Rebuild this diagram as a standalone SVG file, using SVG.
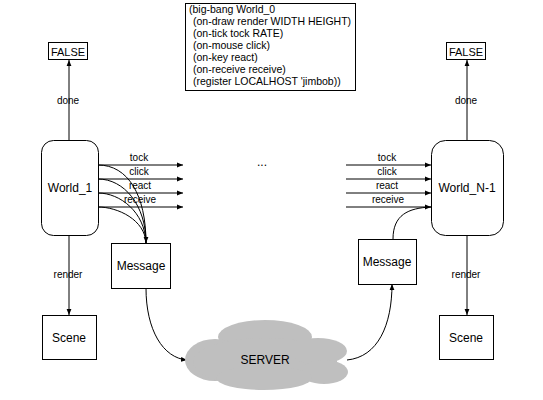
<svg xmlns="http://www.w3.org/2000/svg" width="543" height="400" viewBox="0 0 543 400">
<style>
.box{fill:#fff;stroke:#000;stroke-width:1}
.ln{fill:none;stroke:#000;stroke-width:1}
text{font-family:"Liberation Sans","DejaVu Sans",sans-serif;fill:#000}
.t12{font-size:12px;text-anchor:middle}
.t11{font-size:11px;text-anchor:middle}
.t10{font-size:10px;text-anchor:middle}
.code{font-size:10.5px}
</style>
<defs>
<marker id="ah" viewBox="0 0 10 10" refX="10" refY="5" markerWidth="6" markerHeight="6" markerUnits="userSpaceOnUse" orient="auto">
<path d="M0,1 L10,5 L0,9 Z" fill="#000"/>
</marker>
</defs>
<rect width="543" height="400" fill="#fff"/>
<g id="code">
<rect class="box" x="185.5" y="3.5" width="170" height="87"/>
<text class="code" x="189" y="13">(big-bang World_0</text>
<text class="code" x="193" y="25">(on-draw render WIDTH HEIGHT)</text>
<text class="code" x="193" y="37">(on-tick tock RATE)</text>
<text class="code" x="193" y="49">(on-mouse click)</text>
<text class="code" x="193" y="61">(on-key react)</text>
<text class="code" x="193" y="73">(on-receive receive)</text>
<text class="code" x="193" y="85">(register LOCALHOST 'jimbob))</text>
</g>
<g id="connectors">
<line class="ln" x1="69" y1="140" x2="69" y2="60" marker-end="url(#ah)"/>
<line class="ln" x1="69" y1="235" x2="69" y2="315" marker-end="url(#ah)"/>
<line class="ln" x1="467" y1="140" x2="467" y2="60" marker-end="url(#ah)"/>
<line class="ln" x1="467" y1="235" x2="467" y2="315" marker-end="url(#ah)"/>
<line class="ln" x1="98" y1="165" x2="183" y2="165" marker-end="url(#ah)"/>
<line class="ln" x1="98" y1="179" x2="183" y2="179" marker-end="url(#ah)"/>
<line class="ln" x1="98" y1="193" x2="183" y2="193" marker-end="url(#ah)"/>
<line class="ln" x1="98" y1="207" x2="183" y2="207" marker-end="url(#ah)"/>
<path class="ln" d="M98,165 C128,165 146,195 146,243" marker-end="url(#ah)"/>
<path class="ln" d="M98,179 C124,179 146,205 146,243"/>
<path class="ln" d="M98,193 C120,193 145,212 146,243"/>
<path class="ln" d="M98,207 C118,207 145,220 146,243"/>
<line class="ln" x1="346" y1="165" x2="431" y2="165" marker-end="url(#ah)"/>
<line class="ln" x1="346" y1="179" x2="431" y2="179" marker-end="url(#ah)"/>
<line class="ln" x1="346" y1="193" x2="431" y2="193" marker-end="url(#ah)"/>
<line class="ln" x1="346" y1="207" x2="431" y2="207" marker-end="url(#ah)"/>
<path class="ln" d="M393,239 C393,215 408,208 431,207"/>
<path class="ln" d="M146,288 C146,330 163,358 187,360" marker-end="url(#ah)"/>
<path class="ln" d="M347,360 C378,357 392,325 392,284" marker-end="url(#ah)"/>
<text class="t10" x="139" y="161">tock</text>
<text class="t10" x="139" y="175">click</text>
<text class="t10" x="140" y="189">react</text>
<text class="t10" x="140" y="203">receive</text>
<text class="t10" x="387" y="161">tock</text>
<text class="t10" x="387" y="175">click</text>
<text class="t10" x="387" y="189">react</text>
<text class="t10" x="388" y="203">receive</text>
<text class="t10" x="68" y="104">done</text>
<text class="t10" x="466" y="104">done</text>
<text class="t10" x="68" y="278">render</text>
<text class="t10" x="466" y="278">render</text>
<text class="t12" x="262" y="166">...</text>
</g>
<g id="false1"><rect class="box" x="48.5" y="42.5" width="39" height="17"/><text class="t11" x="68" y="55.5">FALSE</text></g>
<g id="false2"><rect class="box" x="446.5" y="42.5" width="39" height="17"/><text class="t11" x="466" y="55.5">FALSE</text></g>
<g id="world1"><rect class="box" x="41.5" y="140.5" width="57" height="95" rx="12"/><text class="t12" x="70" y="192">World_1</text></g>
<g id="worldN"><rect class="box" x="431.5" y="140.5" width="72" height="95" rx="14"/><text class="t12" x="467" y="192">World_N-1</text></g>
<g id="msg1"><rect class="box" x="111.5" y="243.5" width="59" height="45"/><text class="t12" x="141" y="270">Message</text></g>
<g id="msg2"><rect class="box" x="358.5" y="239.5" width="58" height="45"/><text class="t12" x="387" y="266">Message</text></g>
<g id="scene1"><rect class="box" x="42.5" y="315.5" width="54" height="44"/><text class="t12" x="69" y="342">Scene</text></g>
<g id="scene2"><rect class="box" x="439.5" y="315.5" width="54" height="44"/><text class="t12" x="466" y="342">Scene</text></g>
<g id="server" fill="#bfbfbf">
<ellipse cx="265" cy="337" rx="47" ry="17"/>
<ellipse cx="215" cy="360" rx="30" ry="21"/>
<ellipse cx="265" cy="362" rx="72" ry="24"/>
<ellipse cx="318" cy="351" rx="29" ry="13"/>
<ellipse cx="324" cy="372" rx="24" ry="12"/>
<ellipse cx="264" cy="378" rx="48" ry="12"/>
<text class="t12" x="265" y="364">SERVER</text>
</g>
</svg>
